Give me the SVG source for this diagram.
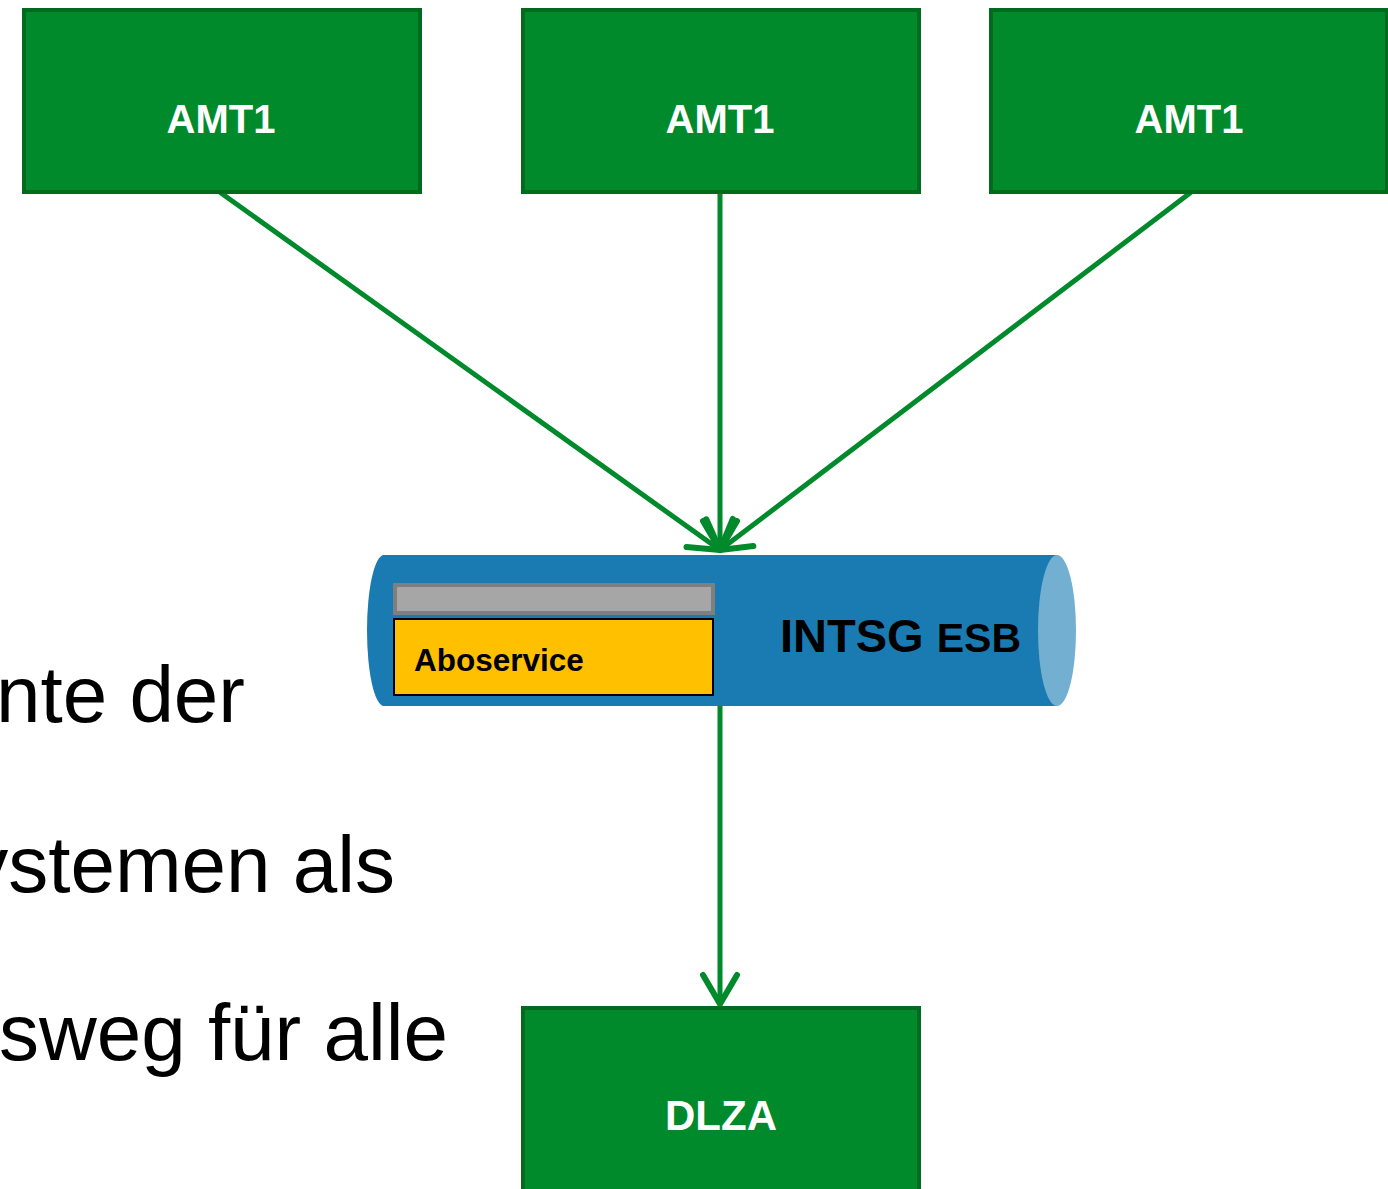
<svg xmlns="http://www.w3.org/2000/svg" width="1388" height="1189" viewBox="0 0 1388 1189">
<defs>
<style>
.box{fill:#008A2C;stroke:#006A1E;stroke-width:4}
.lbl{fill:#fff;font-family:"Liberation Sans",Arial,sans-serif;font-weight:bold;font-size:40px;text-anchor:middle}
.con{stroke:#008A2C;stroke-width:5;fill:none;stroke-linecap:round}
.body{font-family:"Liberation Sans",Arial,sans-serif;font-size:80px;fill:#000;text-anchor:end}
</style>
<marker id="arr" markerUnits="userSpaceOnUse" markerWidth="80" markerHeight="80" refX="0" refY="0" viewBox="-40 -40 80 80" orient="auto" overflow="visible">
<path d="M-29,-17 L0,0 L-29,17" fill="none" stroke="#008A2C" stroke-width="6" stroke-linecap="round" stroke-linejoin="round"/>
</marker>
</defs>
<rect width="1388" height="1189" fill="#fff"/>
<g id="bodytext">
<text class="body" x="245" y="722">nte der</text>
<text class="body" x="395" y="892">ystemen als</text>
<text class="body" x="448" y="1060">sweg für alle</text>
</g>
<g id="connectors">
<line class="con" x1="221" y1="193" x2="720" y2="550" marker-end="url(#arr)"/>
<line class="con" x1="720" y1="193" x2="720" y2="550" marker-end="url(#arr)"/>
<line class="con" x1="1190" y1="193" x2="720" y2="550" marker-end="url(#arr)"/>
<line class="con" x1="720" y1="706" x2="720" y2="1004" marker-end="url(#arr)"/>
</g>
<g id="amt1a">
<rect class="box" x="24" y="10" width="396" height="182"/>
<text class="lbl" x="221" y="133">AMT1</text>
</g>
<g id="amt1b">
<rect class="box" x="523" y="10" width="396" height="182"/>
<text class="lbl" x="720" y="133">AMT1</text>
</g>
<g id="amt1c">
<rect class="box" x="991" y="10" width="396" height="182"/>
<text class="lbl" x="1189" y="133">AMT1</text>
</g>
<g id="esb">
<path d="M384,555 L1057,555 L1057,706 L384,706 A17,75.5 0 0 1 384,555 Z" fill="#1A7BB3"/>
<ellipse cx="1057" cy="630.5" rx="19" ry="75.5" fill="#73AFD0"/>
<rect x="395" y="585" width="318" height="28" fill="#A6A6A6" stroke="#7F7F7F" stroke-width="4"/>
<rect x="394" y="619" width="319" height="76" fill="#FFC000" stroke="#000" stroke-width="2"/>
<text x="414" y="671" font-family="Liberation Sans,Arial,sans-serif" font-weight="bold" font-size="31.5" fill="#000">Aboservice</text>
<text x="780" y="652" font-family="Liberation Sans,Arial,sans-serif" font-weight="bold" fill="#000"><tspan font-size="47">INTSG </tspan><tspan font-size="41">ESB</tspan></text>
</g>
<g id="dlza">
<rect class="box" x="523" y="1008" width="396" height="190"/>
<text class="lbl" x="721" y="1130" font-size="42" style="font-size:42px">DLZA</text>
</g>
</svg>
